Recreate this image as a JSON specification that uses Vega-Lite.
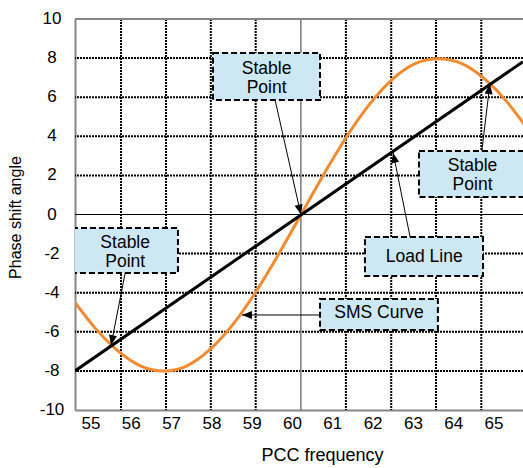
{
  "$schema": "https://vega.github.io/schema/vega-lite/v6.json",
  "width": 448,
  "height": 391,
  "autosize": {"type": "none"},
  "padding": {"left": 75, "top": 19, "right": 0, "bottom": 58},
  "background": "white",
  "view": {"stroke": null},
  "config": {
    "font": "Liberation Sans",
    "axis": {
      "grid": false, "ticks": false, "tickSize": 0,
      "labelFont": "Liberation Sans", "labelFontSize": 17, "labelColor": "#000000",
      "titleFont": "Liberation Sans", "titleFontWeight": "normal", "titleColor": "#000000",
      "domainColor": "#868686", "domainWidth": 2
    },
    "axisY": {"titleFontSize": 16, "titleX": -52, "titleY": 198},
    "axisX": {"labelPadding": 5, "titleFontSize": 18, "titleX": 247, "titleY": 45, "titleBaseline": "middle"}
  },
  "datasets": {
    "hgrid": [{"y": 8}, {"y": 6}, {"y": 4}, {"y": 2}, {"y": -2}, {"y": -4}, {"y": -6}, {"y": -8}],
    "ylabels": [
      {"y": 10, "t": "10"}, {"y": 8, "t": "8"}, {"y": 6, "t": "6"}, {"y": 4, "t": "4"}, {"y": 2, "t": "2"},
      {"y": 0, "t": "0"}, {"y": -2, "t": "-2"}, {"y": -4, "t": "-4"}, {"y": -6, "t": "-6"}, {"y": -8, "t": "-8"},
      {"y": -10, "t": "-10"}
    ],
    "vgrid": [{"x": 55.757}, {"x": 56.873}, {"x": 57.985}, {"x": 59.099}, {"x": 61.337}, {"x": 62.462}, {"x": 63.573}, {"x": 64.697}],
    "sms": [
      {"x": 54.542, "y": -4.3}, {"x": 55.11, "y": -5.8}, {"x": 55.679, "y": -6.98}, {"x": 56.247, "y": -7.75},
      {"x": 56.815, "y": -8.0}, {"x": 57.383, "y": -7.75}, {"x": 57.952, "y": -6.93}, {"x": 58.52, "y": -5.66},
      {"x": 59.088, "y": -4.0}, {"x": 59.657, "y": -2.07}, {"x": 60.225, "y": 0}, {"x": 60.793, "y": 2.07},
      {"x": 61.362, "y": 4.0}, {"x": 61.93, "y": 5.66}, {"x": 62.498, "y": 6.93}, {"x": 63.067, "y": 7.73},
      {"x": 63.635, "y": 7.97}, {"x": 64.203, "y": 7.73}, {"x": 64.771, "y": 6.95}, {"x": 65.34, "y": 5.75},
      {"x": 65.908, "y": 4.2}
    ],
    "load": [{"x": 54.615, "y": -8.0}, {"x": 65.732, "y": 7.82}],
    "boxes": [
      {"x": 58.04, "x2": 60.695, "y": 8.26, "y2": 5.86},
      {"x": 63.15, "x2": 65.9, "y": 3.25, "y2": 0.9},
      {"x": 54.54, "x2": 57.17, "y": -0.69, "y2": -2.99},
      {"x": 61.81, "x2": 64.74, "y": -1.15, "y2": -3.15},
      {"x": 60.695, "x2": 63.62, "y": -4.32, "y2": -5.91}
    ],
    "labels": [
      {"x": 59.37, "y": 7.46, "t": "Stable\nPoint"},
      {"x": 64.48, "y": 2.47, "t": "Stable\nPoint"},
      {"x": 55.86, "y": -1.44, "t": "Stable\nPoint"},
      {"x": 63.28, "y": -2.15, "t": "Load Line"},
      {"x": 62.16, "y": -5.05, "t": "SMS Curve"}
    ],
    "arrows": [
      {"x": 59.58, "y": 5.86, "x2": 60.22, "y2": 0.0, "a": 166.9},
      {"x": 64.71, "y": 3.25, "x2": 64.91, "y2": 6.67, "a": 7.1},
      {"x": 62.93, "y": -1.15, "x2": 62.51, "y2": 3.15, "a": 348.6},
      {"x": 60.695, "y": -5.14, "x2": 58.76, "y2": -5.14, "a": 270},
      {"x": 55.86, "y": -2.99, "x2": 55.51, "y2": -6.68, "a": 191}
    ]
  },
  "layer": [
    {
      "data": {"name": "hgrid"},
      "mark": {"type": "rule", "color": "#000000", "strokeWidth": 2, "strokeDash": [2, 1]},
      "encoding": {
        "y": {
          "field": "y", "type": "quantitative",
          "scale": {"domain": [-10, 10], "nice": false, "zero": false},
          "axis": {"values": [-10, -8, -6, -4, -2, 0, 2, 4, 6, 8, 10], "title": "Phase shift angle", "labels": false}
        }
      }
    },
    {
      "data": {"name": "vgrid"},
      "mark": {"type": "rule", "color": "#000000", "strokeWidth": 2, "strokeDash": [2, 1]},
      "encoding": {
        "x": {
          "field": "x", "type": "quantitative",
          "scale": {"domain": [54.615, 65.732], "nice": false, "zero": false},
          "axis": {"values": [55, 56, 57, 58, 59, 60, 61, 62, 63, 64, 65], "title": "PCC frequency", "labelOverlap": false, "labelExpr": "datum.value + ''"}
        }
      }
    },
    {
      "data": {"name": "ylabels"},
      "mark": {"type": "text", "font": "Liberation Sans", "fontSize": 17, "color": "#000000", "align": "center", "baseline": "middle", "dx": -23, "clip": false},
      "encoding": {
        "x": {"datum": 54.615, "type": "quantitative"},
        "y": {"field": "y", "type": "quantitative"},
        "text": {"field": "t", "type": "nominal"}
      }
    },
    {
      "data": {"values": [{"y": 0}]},
      "mark": {"type": "rule", "color": "#000000", "strokeWidth": 1},
      "encoding": {"y": {"field": "y", "type": "quantitative"}}
    },
    {
      "data": {"values": [{"x": 60.22}]},
      "mark": {"type": "rule", "color": "#7a7a7a", "strokeWidth": 1.5},
      "encoding": {"x": {"field": "x", "type": "quantitative"}}
    },
    {
      "data": {"values": [{"y": 10}]},
      "mark": {"type": "rule", "color": "#868686", "strokeWidth": 2},
      "encoding": {"y": {"field": "y", "type": "quantitative"}}
    },
    {
      "data": {"name": "sms"},
      "mark": {"type": "line", "color": "#f28a30", "strokeWidth": 3, "interpolate": "natural", "clip": true},
      "encoding": {
        "x": {"field": "x", "type": "quantitative"},
        "y": {"field": "y", "type": "quantitative"}
      }
    },
    {
      "data": {"name": "load"},
      "mark": {"type": "line", "color": "#000000", "strokeWidth": 3, "clip": true},
      "encoding": {
        "x": {"field": "x", "type": "quantitative"},
        "y": {"field": "y", "type": "quantitative"}
      }
    },
    {
      "data": {"name": "boxes"},
      "mark": {"type": "rect", "fill": "#cde8f3", "stroke": "#000000", "strokeWidth": 2, "strokeDash": [6, 3], "clip": true},
      "encoding": {
        "x": {"field": "x", "type": "quantitative"},
        "x2": {"field": "x2"},
        "y": {"field": "y", "type": "quantitative"},
        "y2": {"field": "y2"}
      }
    },
    {
      "data": {"name": "labels"},
      "mark": {"type": "text", "font": "Liberation Sans", "fontSize": 17.5, "color": "#000000", "align": "center", "baseline": "middle", "lineBreak": "\n", "lineHeight": 19},
      "encoding": {
        "x": {"field": "x", "type": "quantitative"},
        "y": {"field": "y", "type": "quantitative"},
        "text": {"field": "t"}
      }
    },
    {
      "data": {"name": "arrows"},
      "mark": {"type": "rule", "color": "#000000", "strokeWidth": 1},
      "encoding": {
        "x": {"field": "x", "type": "quantitative"},
        "y": {"field": "y", "type": "quantitative"},
        "x2": {"field": "x2"},
        "y2": {"field": "y2"}
      }
    },
    {
      "data": {"name": "arrows"},
      "mark": {"type": "point", "shape": "M0,0L-0.45,1.1L0.45,1.1Z", "filled": true, "color": "#000000", "opacity": 1, "size": 324, "strokeWidth": 0},
      "encoding": {
        "x": {"field": "x2", "type": "quantitative"},
        "y": {"field": "y2", "type": "quantitative"},
        "angle": {"field": "a", "type": "quantitative", "scale": null}
      }
    }
  ]
}
